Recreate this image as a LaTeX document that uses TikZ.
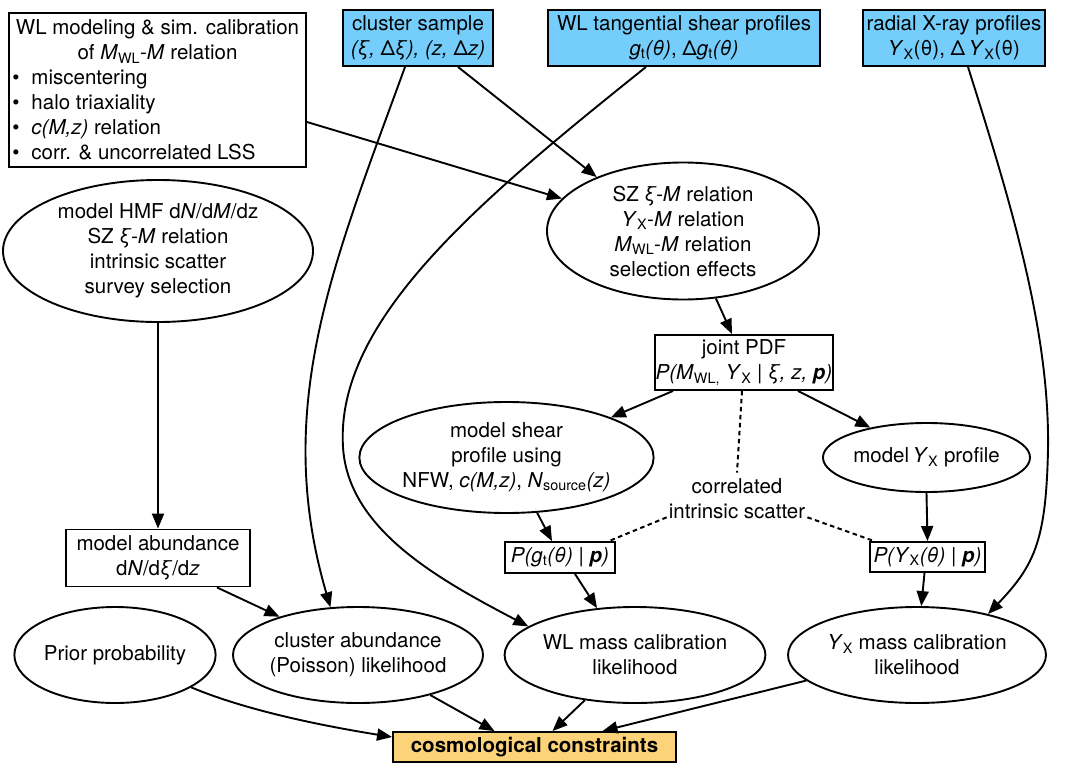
\documentclass[tikz,border=0pt]{standalone}
\usepackage{fontspec}
\setmainfont{TeX Gyre Heros}
\usetikzlibrary{arrows.meta,shapes.geometric,calc}
\definecolor{skyblue}{RGB}{116,205,250}
\definecolor{goldbox}{RGB}{253,211,122}
\newcommand{\mybul}{\makebox[19pt][l]{\raisebox{0.5pt}{\textbullet}}}
\begin{document}
\begin{tikzpicture}[x=1pt,y=-1pt,
  every node/.style={font=\fontsize{20.5}{25}\selectfont},
  rbox/.style={draw, line width=1.9pt, rectangle, inner sep=1pt, align=center},
  bluebox/.style={rbox, fill=skyblue},
  ell/.style={draw, line width=1.9pt, ellipse, inner sep=0pt, align=center},
  arr/.style={line width=1.9pt, -{Triangle[length=15pt,width=12pt]}},
  dotline/.style={line width=2pt, dash pattern=on 4.5pt off 3.5pt}
]
\useasboundingbox (0,0) rectangle (1069,771);

% top row
\node[rbox, minimum width=297pt, minimum height=154pt] (wl) at (157.5,90)
 {\begin{minipage}{290pt}\centering WL modeling \& sim. calibration\\
  of \textit{M}\textsubscript{WL}-\textit{M} relation\par\raggedright
  \mybul miscentering\\
  \mybul halo triaxiality\\
  \mybul\textit{c(M,z)} relation\\
  \mybul corr. \& uncorrelated LSS\end{minipage}};
\node[bluebox, minimum width=150pt, minimum height=56pt] (cs) at (418,38)
 {cluster sample\\ \textit{(ξ,} Δ\textit{ξ), (z,} Δ\textit{z)}};
\node[bluebox, minimum width=272pt, minimum height=56pt] (wt) at (684,38)
 {WL tangential shear profiles\\ \textit{g}\textsubscript{t}\textit{(θ)}, Δ\textit{g}\textsubscript{t}\textit{(θ)}};
\node[bluebox, minimum width=182pt, minimum height=56pt] (rx) at (954,38)
 {radial X-ray profiles\\ \textit{Y}\textsubscript{X}(θ), Δ\,\textit{Y}\textsubscript{X}(θ)};

% second row
\node[ell, minimum width=310pt, minimum height=142pt] (hmf) at (158,251)
 {model HMF d\textit{N}/d\textit{M}/dz\\ SZ \textit{ξ-M} relation\\ intrinsic scatter\\ survey selection};
\node[ell, minimum width=272pt, minimum height=137pt] (sz) at (683,231)
 {SZ \textit{ξ-M} relation\\ \textit{Y}\textsubscript{X}-\textit{M} relation\\ \textit{M}\textsubscript{WL}-\textit{M} relation\\ selection effects};

% middle
\node[rbox, minimum width=178pt, minimum height=55pt] (jp) at (744,362.5)
 {joint PDF\\ \textit{P(M}\textsubscript{WL,} \textit{Y}\textsubscript{X} | \textit{ξ, z,} \textbf{\textit{p}}\textit{)}};
\node[ell, minimum width=283pt, minimum height=111pt] (ms) at (506.5,457.5)
 {model shear\\ profile using\\ NFW, \textit{c(M,z)}, \textit{N}\textsubscript{source}\textit{(z)}};
\node[ell, minimum width=207pt, minimum height=69pt] (my) at (926.5,457.5)
 {model\,\textit{Y}\textsubscript{X} profile};
\node[align=center, inner sep=0pt] (corr) at (737,499) {correlated\\ intrinsic scatter};
\node[rbox, minimum width=110pt, minimum height=31pt] (pg) at (560,557.5)
 {\textit{P(g}\textsubscript{t}\textit{(θ)} | \textbf{\textit{p}}\textit{)}};
\node[rbox, minimum width=115pt, minimum height=30pt] (py) at (927.5,557)
 {\textit{P(Y}\textsubscript{X}\textit{(θ)} | \textbf{\textit{p}}\textit{)}};
\node[rbox, minimum width=184pt, minimum height=57pt] (ma) at (158,558)
 {model abundance\\ d\textit{N}/d\textit{ξ}/d\textit{z}};

% bottom row
\node[ell, minimum width=188pt, minimum height=96pt] (pr) at (115,655) {Prior probability};
\node[ell, minimum width=250pt, minimum height=96pt] (ca) at (358,655)
 {cluster abundance\\ (Poisson) likelihood};
\node[ell, minimum width=236pt, minimum height=96pt] (wm) at (635,655)
 {WL mass calibration\\ likelihood};
\node[ell, minimum width=258pt, minimum height=96pt] (ym) at (917,655)
 {\textit{Y}\textsubscript{X} mass calibration\\ likelihood};
\node[rbox, fill=goldbox, minimum width=283pt, minimum height=30pt] (co) at (534.5,747)
 {\textbf{cosmological constraints}};

% connectors
\draw[arr] ([xshift=-13pt]cs.south) .. controls (333,265) and (272,407) .. (ca.120);
\draw[arr] ([xshift=40pt]cs.south) -- (sz.148);
\draw[arr] ([yshift=-32pt]wl.east) -- (sz.165);
\draw[arr] ([xshift=-38pt]wt.south) .. controls (480,200) and (335,320) .. (343,447)
  .. controls (348,530) and (440,580) .. (wm.165);
\draw[arr] ([xshift=14pt]rx.south) .. controls (1010,200) and (1050,330) .. (1048,450)
  .. controls (1046,540) and (1035,565) .. (ym.30);
\draw[arr] (sz.296) -- ([xshift=-12pt]jp.north);
\draw[arr] ([xshift=-71pt]jp.south) -- (ms.21);
\draw[arr] ([xshift=54pt]jp.south) -- (my.152);
\draw[dotline] ([xshift=-2pt]jp.south) -- ([yshift=6pt]corr.north);
\draw[dotline] ([xshift=-2pt,yshift=2pt]corr.south west) -- ([xshift=-7pt]pg.north east);
\draw[dotline] ([xshift=2pt,yshift=2pt]corr.south east) -- ([xshift=5pt]py.north west);
\draw[arr] (ms.299) -- ([xshift=-8pt]pg.north);
\draw[arr] (my.south) -- (py.north);
\draw[arr] ([xshift=15pt]pg.south) -- (wm.129);
\draw[arr] ([xshift=-3pt]py.south) -- (ym.85);
\draw[arr] (hmf.south) -- (ma.north);
\draw[arr] ([xshift=59pt]ma.south) -- (ca.154);
\draw[arr] (pr.337) .. controls (250,712) and (330,727) .. ([yshift=10pt]co.west);
\draw[arr] (ca.331) -- ([xshift=-40pt]co.north);
\draw[arr] (wm.222) -- ([xshift=18pt]co.north);
\draw[arr] (ym.193) -- ([xshift=68pt]co.north);
\end{tikzpicture}
\end{document}
